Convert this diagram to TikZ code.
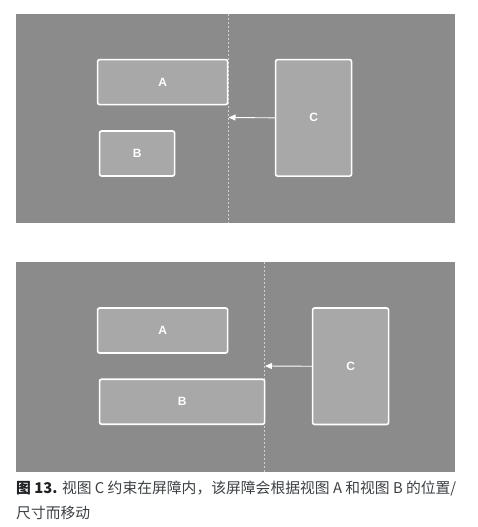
\documentclass[tikz,border=0pt]{standalone}
\usepackage{fontspec}
\setmainfont{Liberation Sans}
\newfontfamily\cjk{Noto Sans CJK SC}
\usetikzlibrary{arrows.meta}
\definecolor{panelgray}{HTML}{8B8B8B}
\definecolor{boxgray}{HTML}{A8A8A8}
\definecolor{barriergray}{HTML}{D2D2D2}
\definecolor{captext}{HTML}{3C4043}
\definecolor{capbold}{HTML}{202124}
\tikzset{
  panel/.style={fill=panelgray, draw=none},
  viewbox/.style={draw=white, line width=1.6pt, fill=boxgray, rounded corners=2pt,
    anchor=north west, inner sep=0pt, text=white, font=\fontsize{12}{14}\selectfont\bfseries},
  barrier/.style={draw=barriergray, line width=1pt, dash pattern=on 2pt off 2pt},
  constraint/.style={draw=white, line width=0.9pt, -{Triangle[length=7pt,width=6pt]}},
}
\begin{document}
\begin{tikzpicture}[x=1pt,y=-1pt]
\useasboundingbox (0,0) rectangle (478,527);
% ---------- top panel ----------
\fill[panel] (16,14) rectangle (455,223);
\coordinate (b1top) at (228,14);
\coordinate (b1bot) at (228,223);
\draw[barrier] (b1top) -- (b1bot);
\node[viewbox, minimum width=130pt, minimum height=45pt] (A1) at (96.8,58.8) {A};
\node[viewbox, minimum width=75pt, minimum height=45pt] (B1) at (98.8,130.2) {B};
\node[viewbox, minimum width=76pt, minimum height=116.5pt] (C1) at (274.8,58.8) {C};
\coordinate (t1) at (228.5,117.5);
\draw[constraint] (C1.west) -- (t1);
% ---------- bottom panel ----------
\fill[panel] (16,262) rectangle (455,472);
\coordinate (b2top) at (264.5,262);
\coordinate (b2bot) at (264.5,472);
\draw[barrier] (b2top) -- (b2bot);
\node[viewbox, minimum width=130pt, minimum height=45pt] (A2) at (96.8,307.2) {A};
\node[viewbox, minimum width=165pt, minimum height=45pt] (B2) at (98.8,378.4) {B};
\node[viewbox, minimum width=76pt, minimum height=116.5pt] (C2) at (311.8,307.2) {C};
\coordinate (t2) at (265,366);
\draw[constraint] (C2.west) -- (t2);
% ---------- caption ----------
\node[anchor=north west, inner sep=0pt, align=left, text=captext,
  font=\cjk\fontsize{14.8}{25}\selectfont] (cap) at (16,481)
  {{\color{capbold}\bfseries 图 13.} 视图 C 约束在屏障内，该屏障会根据视图 A 和视图 B 的位置/\\尺寸而移动};
\end{tikzpicture}
\end{document}
